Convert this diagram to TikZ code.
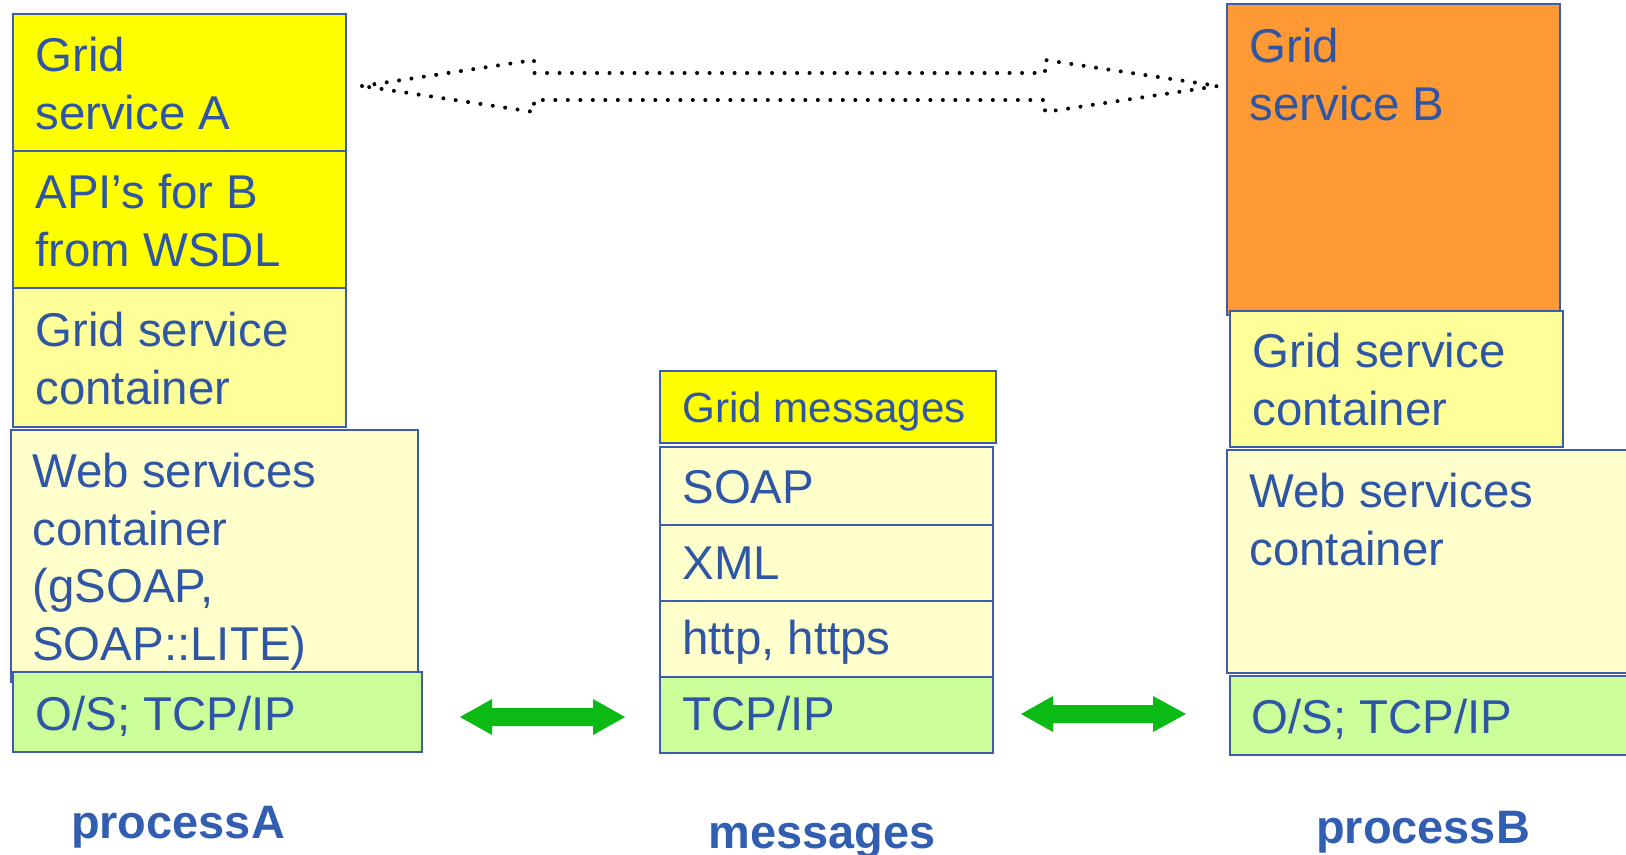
\documentclass[tikz,border=0pt]{standalone}
\usepackage{fontspec}
\setmainfont{Liberation Sans}
\definecolor{txtblue}{RGB}{46,86,164}
\definecolor{lblblue}{RGB}{50,94,178}
\definecolor{rimblue}{RGB}{62,92,172}
\definecolor{gyellow}{RGB}{255,255,0}
\definecolor{pyellow}{RGB}{255,255,153}
\definecolor{lyellow}{RGB}{255,255,204}
\definecolor{lgreen}{RGB}{204,255,153}
\definecolor{borange}{RGB}{255,153,51}
\definecolor{agreen}{RGB}{12,186,20}
\begin{document}
\begin{tikzpicture}[x=0.2mm, y=-0.2mm,
  layer/.style={draw=rimblue, line width = 0.4mm},
  txt/.style={font=\fontsize{27}{32.7}\selectfont, text=txtblue, align=left, anchor=base west, inner sep=0},
  lbl/.style={font=\fontsize{26.7}{32}\selectfont\bfseries, text=lblblue, anchor=base, inner sep=0}]
\clip (0,0) rectangle (1626,854);

%процесс A
\draw[layer, fill=gyellow] (13,14) rectangle (346,151);
\node[txt] (gsA) at (35,129) {Grid\\service A};
\draw[layer, fill=gyellow] (13,151) rectangle (346,288);
\node[txt] (apiB) at (35,266) {API’s for B\\from WSDL};
\draw[layer, fill=pyellow] (13,288) rectangle (346,427);
\node[txt] (gscA) at (35,404) {Grid service\\container};
\draw[layer, fill=lyellow] (11,430) rectangle (418,682);
\node[txt] (wscA) at (32,660) {Web services\\container\\(gSOAP,\\SOAP::LITE)};
\draw[layer, fill=lgreen] (13,672) rectangle (422,752);
\node[txt] (osA) at (35,730) {O/S; TCP/IP};
\node[lbl] (procA) at (178,838) {processA};

%сообщения
\draw[layer, fill=gyellow] (660,371) rectangle (996,443);
\node[txt, font=\fontsize{24}{29}\selectfont] (gmsg) at (682,422) {Grid messages};
\draw[layer, fill=lyellow] (660,447) rectangle (993,525);
\node[txt] (soap) at (682,503) {SOAP};
\draw[layer, fill=lyellow] (660,525) rectangle (993,601);
\node[txt] (xml) at (682,579) {XML};
\draw[layer, fill=lyellow] (660,601) rectangle (993,677);
\node[txt] (http) at (682,654) {http, https};
\draw[layer, fill=lgreen] (660,677) rectangle (993,753);
\node[txt] (tcp) at (682,730) {TCP/IP};
\node[lbl] (msg) at (822,848) {messages};

%процесс B
\draw[layer, fill=borange] (1227,4) rectangle (1560,315);
\node[txt] (gsB) at (1249,120) {Grid\\service B};
\draw[layer, fill=pyellow] (1230,311) rectangle (1563,447);
\node[txt] (gscB) at (1252,425) {Grid service\\container};
\draw[layer, fill=lyellow] (1227,450) rectangle (1640,673);
\node[txt] (wscB) at (1249,565) {Web services\\container};
\draw[layer, fill=lgreen] (1230,676) rectangle (1640,755);
\node[txt] (osB) at (1251,733) {O/S; TCP/IP};
\node[lbl] (procB) at (1423,843) {processB};

%пунктирная стрелка
\draw[black, line width = 0.8mm, line cap=round, dash pattern=on 0pt off 2.5mm]
  (362,86) -- (534,60) -- (534,73) -- (1045,73) -- (1045,60) -- (1218,86)
  -- (1045,112) -- (1045,100) -- (534,100) -- (534,112) -- cycle;

%зелёные стрелки
\fill[agreen] (460,717) -- (492,699) -- (492,708) -- (593,708) -- (593,699) -- (625,717)
  -- (593,735) -- (593,726) -- (492,726) -- (492,735) -- cycle;
\fill[agreen] (1021,714) -- (1053,696) -- (1053,705) -- (1153,705) -- (1153,696) -- (1186,714)
  -- (1153,732) -- (1153,723) -- (1053,723) -- (1053,732) -- cycle;

\end{tikzpicture}
\end{document}
